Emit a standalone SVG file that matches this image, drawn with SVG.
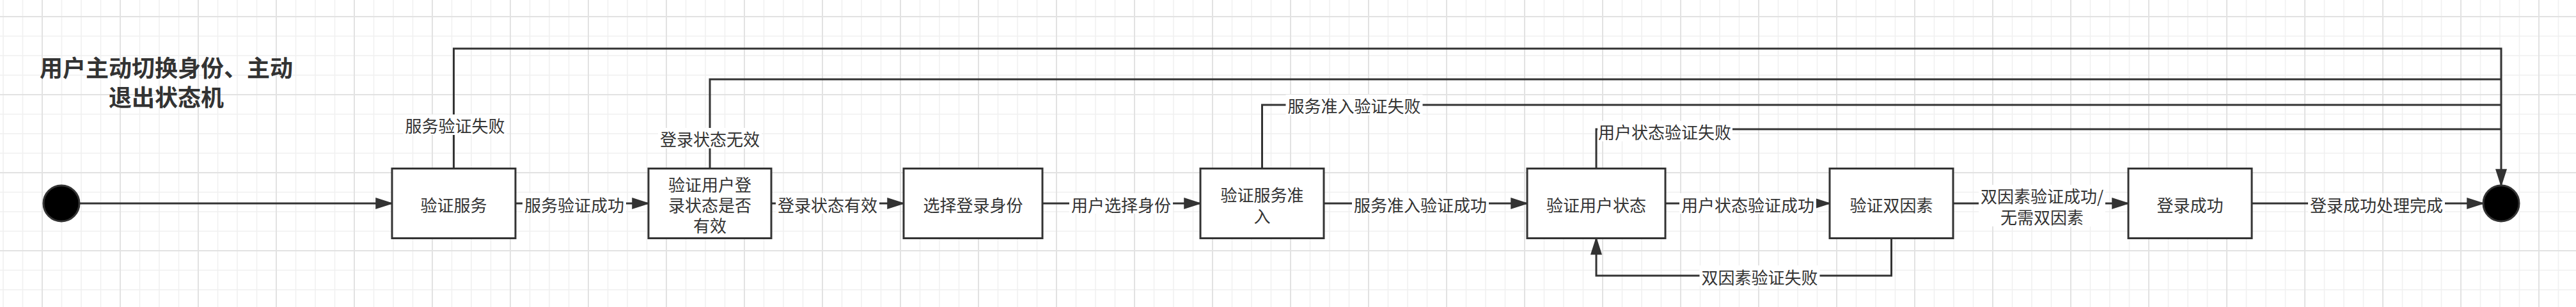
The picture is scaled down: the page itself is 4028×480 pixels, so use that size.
<svg xmlns="http://www.w3.org/2000/svg" width="4028" height="480" viewBox="0 0 4028 480">
<defs>
<style>
.box{fill:#fff;stroke:#333;stroke-width:3}
.dot{fill:#000;stroke:#333;stroke-width:3}
.t{font-family:"Noto Sans CJK SC","Noto Sans",sans-serif;font-size:26px;fill:#333;text-anchor:middle;dominant-baseline:central}
.title{font-family:"Noto Sans CJK SC","Noto Sans",sans-serif;font-size:36px;font-weight:bold;fill:#333;text-anchor:middle;dominant-baseline:central}
.edge{fill:none;stroke:#333;stroke-width:3}
.lbg{fill:#fff}
</style>
<pattern id="grid" patternUnits="userSpaceOnUse" x="66" y="26" width="122" height="122">
<path d="M30.5,0V122M61,0V122M91.5,0V122M0,30.5H122M0,61H122M0,91.5H122" stroke="#f0f0f0" stroke-width="1.5" fill="none"/>
<path d="M0,0V122M122,0V122M0,0H122M0,122H122" stroke="#e2e2e2" stroke-width="2" fill="none"/>
</pattern>
<marker id="arr" markerUnits="userSpaceOnUse" markerWidth="30" markerHeight="22" refX="26" refY="11" orient="auto">
<path d="M1,3 L26,11 L1,19 Z" fill="#333" stroke="#333" stroke-width="1.5"/>
</marker>
</defs>
<rect width="4028" height="480" fill="#fff"/>
<rect width="4028" height="480" fill="url(#grid)"/>

<g id="title">
<text class="title" x="260" y="104">用户主动切换身份、主动</text>
<text class="title" x="260" y="150">退出状态机</text>
</g>

<g id="connectors">
<path class="edge" d="M124,318H613" marker-end="url(#arr)"/>
<path class="edge" d="M806,318H1014" marker-end="url(#arr)"/>
<path class="edge" d="M1206,318H1413" marker-end="url(#arr)"/>
<path class="edge" d="M1630,318H1877" marker-end="url(#arr)"/>
<path class="edge" d="M2070,318H2388" marker-end="url(#arr)"/>
<path class="edge" d="M2604,318H2861" marker-end="url(#arr)"/>
<path class="edge" d="M3054,318H3328" marker-end="url(#arr)"/>
<path class="edge" d="M3521,318H3883" marker-end="url(#arr)"/>
<path class="edge" d="M709.5,263.5V76H3911V290" marker-end="url(#arr)"/>
<path class="edge" d="M1110,263.5V124H3911"/>
<path class="edge" d="M1973.5,263.5V164H3911"/>
<path class="edge" d="M2496,263.5V202H3911"/>
<path class="edge" d="M2957.5,372.5V431H2496V372.5" marker-end="url(#arr)"/>

<rect class="lbg" x="817" y="302" width="162" height="32"/>
<text class="t" x="898" y="319">服务验证成功</text>
<rect class="lbg" x="630.5" y="179" width="162" height="32"/>
<text class="t" x="711.5" y="195">服务验证失败</text>
<rect class="lbg" x="1213" y="302" width="162" height="32"/>
<text class="t" x="1294" y="319">登录状态有效</text>
<rect class="lbg" x="1029" y="200" width="162" height="32"/>
<text class="t" x="1110" y="216">登录状态无效</text>
<rect class="lbg" x="1672" y="302" width="162" height="32"/>
<text class="t" x="1753" y="319">用户选择身份</text>
<rect class="lbg" x="2010.5" y="148" width="214" height="32"/>
<text class="t" x="2117.5" y="164">服务准入验证失败</text>
<rect class="lbg" x="2114" y="302" width="214" height="32"/>
<text class="t" x="2221" y="319">服务准入验证成功</text>
<rect class="lbg" x="2498" y="189" width="211" height="32"/>
<text class="t" x="2603" y="205">用户状态验证失败</text>
<rect class="lbg" x="2626" y="302" width="214" height="32"/>
<text class="t" x="2733" y="319">用户状态验证成功</text>
<rect class="lbg" x="2657.5" y="415" width="188" height="32"/>
<text class="t" x="2751.5" y="432">双因素验证失败</text>
<rect class="lbg" x="3094" y="289" width="198" height="65"/>
<text class="t" x="3193" y="305">双因素验证成功/</text>
<text class="t" x="3193" y="338">无需双因素</text>
<rect class="lbg" x="3609" y="302" width="214" height="32"/>
<text class="t" x="3716" y="319">登录成功处理完成</text>
</g>

<g id="start"><circle class="dot" cx="96" cy="318" r="28"/></g>
<g id="end"><circle class="dot" cx="3911" cy="318" r="28"/></g>

<g id="verifyService">
<rect class="box" x="613" y="263.5" width="193" height="109"/>
<text class="t" x="709.5" y="319">验证服务</text>
</g>
<g id="verifyLogin">
<rect class="box" x="1014" y="263.5" width="192" height="109"/>
<text class="t" x="1110" y="287">验证用户登</text>
<text class="t" x="1110" y="319">录状态是否</text>
<text class="t" x="1110" y="351">有效</text>
</g>
<g id="selectIdentity">
<rect class="box" x="1413" y="263.5" width="217" height="109"/>
<text class="t" x="1521.5" y="319">选择登录身份</text>
</g>
<g id="verifyAccess">
<rect class="box" x="1877" y="263.5" width="193" height="109"/>
<text class="t" x="1973.5" y="303">验证服务准</text>
<text class="t" x="1973.5" y="336">入</text>
</g>
<g id="verifyUserState">
<rect class="box" x="2388" y="263.5" width="216" height="109"/>
<text class="t" x="2496" y="319">验证用户状态</text>
</g>
<g id="verify2FA">
<rect class="box" x="2861" y="263.5" width="193" height="109"/>
<text class="t" x="2957.5" y="319">验证双因素</text>
</g>
<g id="loginSuccess">
<rect class="box" x="3328" y="263.5" width="193" height="109"/>
<text class="t" x="3424.5" y="319">登录成功</text>
</g>
</svg>
